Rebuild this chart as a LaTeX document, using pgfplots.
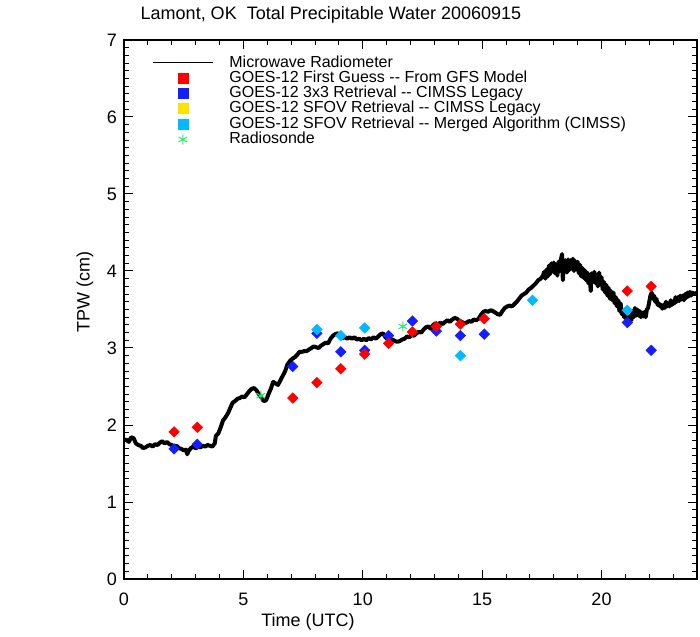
\documentclass[border=0pt]{standalone}
\usepackage{fontspec}
\setmainfont{Liberation Sans}
\usepackage{pgfplots}
\usepackage{pgfplotstable}
\pgfplotsset{compat=1.18}
\definecolor{fgred}{RGB}{255,0,0}
\definecolor{fgblue}{RGB}{20,30,255}
\definecolor{fgyellow}{RGB}{255,225,0}
\definecolor{fgcyan}{RGB}{0,185,255}
\definecolor{sondegreen}{RGB}{40,235,110}

% microwave radiometer TPW (cm) vs hour UTC
\pgfplotstableread{
x y
0.00 1.80
0.10 1.81
0.20 1.78
0.30 1.84
0.40 1.83
0.50 1.76
0.60 1.74
0.70 1.73
0.80 1.70
0.90 1.71
1.00 1.73
1.10 1.74
1.20 1.72
1.30 1.75
1.40 1.74
1.50 1.77
1.60 1.79
1.70 1.76
1.80 1.78
1.90 1.75
2.00 1.74
2.10 1.72
2.20 1.73
2.30 1.70
2.40 1.69
2.50 1.67
2.60 1.68
2.65 1.62
2.70 1.66
2.80 1.70
2.90 1.72
3.00 1.70
3.10 1.72
3.20 1.71
3.30 1.73
3.40 1.72
3.50 1.74
3.60 1.73
3.70 1.72
3.80 1.76
3.85 1.86
3.95 1.89
4.05 1.97
4.15 2.06
4.25 2.10
4.35 2.15
4.45 2.22
4.55 2.29
4.65 2.31
4.75 2.34
4.85 2.35
4.95 2.37
5.05 2.36
5.15 2.40
5.25 2.44
5.35 2.47
5.45 2.48
5.55 2.45
5.65 2.40
5.75 2.36
5.85 2.31
5.95 2.32
6.05 2.40
6.15 2.47
6.25 2.56
6.35 2.54
6.45 2.52
6.55 2.58
6.65 2.64
6.75 2.70
6.85 2.79
6.95 2.83
7.05 2.86
7.15 2.88
7.25 2.91
7.35 2.95
7.45 2.95
7.55 2.96
7.65 2.96
7.75 2.98
7.85 3.00
7.95 3.02
8.05 3.01
8.15 3.00
8.25 3.03
8.35 3.05
8.45 3.07
8.55 3.06
8.65 3.12
8.75 3.16
8.85 3.18
8.95 3.19
9.05 3.17
9.15 3.13
9.25 3.14
9.35 3.12
9.45 3.14
9.55 3.12
9.65 3.14
9.75 3.11
9.85 3.12
9.95 3.10
10.05 3.12
10.15 3.10
10.25 3.13
10.35 3.11
10.45 3.14
10.55 3.12
10.65 3.15
10.75 3.18
10.85 3.19
10.95 3.14
11.05 3.11
11.15 3.10
11.25 3.11
11.35 3.09
11.45 3.08
11.55 3.09
11.65 3.11
11.75 3.12
11.85 3.15
11.95 3.14
12.05 3.17
12.15 3.16
12.25 3.19
12.35 3.21
12.45 3.20
12.55 3.24
12.65 3.27
12.75 3.28
12.85 3.25
12.95 3.30
13.05 3.32
13.15 3.30
13.25 3.33
13.35 3.31
13.45 3.34
13.55 3.36
13.65 3.34
13.75 3.37
13.85 3.39
13.95 3.38
14.05 3.35
14.15 3.34
14.25 3.32
14.35 3.33
14.45 3.35
14.55 3.34
14.65 3.37
14.75 3.36
14.85 3.38
14.95 3.43
15.05 3.47
15.15 3.48
15.25 3.47
15.35 3.49
15.45 3.48
15.55 3.46
15.65 3.44
15.75 3.43
15.85 3.48
15.95 3.52
16.05 3.54
16.15 3.55
16.25 3.54
16.35 3.57
16.45 3.60
16.55 3.64
16.65 3.68
16.75 3.70
16.85 3.72
16.95 3.76
17.05 3.78
17.15 3.81
17.25 3.84
17.35 3.88
17.45 3.90
17.55 3.94
17.60 3.99
17.65 3.90
17.70 4.02
17.75 3.93
17.80 4.07
17.85 3.96
17.90 4.10
17.95 4.00
18.00 4.11
18.05 3.97
18.10 4.08
18.15 3.94
18.20 4.12
18.25 4.00
18.30 4.15
18.35 4.22
18.38 3.88
18.42 4.06
18.48 4.14
18.55 3.98
18.60 4.15
18.65 4.01
18.70 4.14
18.75 4.03
18.80 4.16
18.85 4.00
18.90 4.13
18.95 4.02
19.00 4.12
19.05 3.97
19.10 4.08
19.15 3.93
19.20 4.04
19.25 3.91
19.30 4.01
19.35 3.88
19.40 3.98
19.45 3.84
19.50 3.94
19.55 3.74
19.58 3.97
19.65 3.86
19.70 3.99
19.75 3.84
19.80 3.95
19.85 3.80
19.90 3.98
19.95 3.83
20.00 3.92
20.05 3.76
20.10 3.86
20.15 3.72
20.20 3.82
20.25 3.68
20.30 3.78
20.35 3.64
20.40 3.74
20.45 3.62
20.50 3.72
20.55 3.58
20.60 3.66
20.65 3.54
20.70 3.62
20.75 3.48
20.80 3.58
20.85 3.44
20.90 3.48
20.95 3.40
21.00 3.44
21.05 3.36
21.10 3.40
21.15 3.33
21.20 3.42
21.25 3.36
21.30 3.48
21.35 3.40
21.40 3.52
21.45 3.42
21.50 3.50
21.55 3.42
21.60 3.48
21.65 3.40
21.70 3.46
21.75 3.41
21.80 3.47
21.85 3.40
21.90 3.50
21.95 3.52
22.00 3.60
22.05 3.68
22.10 3.72
22.15 3.64
22.20 3.68
22.25 3.60
22.30 3.64
22.35 3.56
22.40 3.58
22.45 3.54
22.50 3.56
22.55 3.51
22.60 3.56
22.65 3.52
22.70 3.60
22.75 3.54
22.80 3.58
22.85 3.54
22.90 3.62
22.95 3.56
23.00 3.60
23.05 3.58
23.10 3.66
23.15 3.60
23.20 3.66
23.25 3.61
23.30 3.68
23.35 3.63
23.40 3.68
23.45 3.62
23.50 3.70
23.55 3.65
23.60 3.72
23.65 3.67
23.70 3.73
23.75 3.68
23.80 3.72
23.90 3.70
24.00 3.72
}\mwr

\pgfplotstableread{
x y
2.10 1.91
3.07 1.97
7.07 2.35
8.08 2.55
9.08 2.73
10.08 2.92
11.08 3.06
12.08 3.21
13.08 3.28
14.09 3.31
15.09 3.38
21.08 3.74
22.08 3.80
}\firstguess

\pgfplotstableread{
x y
2.10 1.69
3.07 1.75
7.07 2.76
8.08 3.19
9.08 2.95
10.08 2.97
11.08 3.16
12.08 3.35
13.08 3.22
14.09 3.16
15.09 3.18
21.08 3.33
22.08 2.97
}\threebythree

\pgfplotstableread{
x y
24.04 3.64
}\sfovlegacy

\pgfplotstableread{
x y
8.08 3.24
9.08 3.16
10.08 3.26
14.09 2.90
17.11 3.62
21.08 3.49
}\sfovmerged

\pgfplotstableread{
x y
5.73 2.38
11.68 3.28
}\sonde

\begin{document}
\begin{tikzpicture}
\begin{axis}[
    width=286.5pt, height=269.5pt, scale only axis,
    xmin=0, xmax=24, ymin=0, ymax=7,
    xtick={0,5,10,15,20},
    minor xtick={1,2,3,4,6,7,8,9,11,12,13,14,16,17,18,19,21,22,23},
    ytick={0,1,...,7},
    minor y tick num=9,
    tick pos=both, tick align=inside,
    major tick length=4.5pt, minor tick length=2.5pt,
    major tick style={black, line width=0.5pt},
    minor tick style={black, line width=0.5pt},
    axis line style={line width=0.6pt},
    /pgf/number format/assume math mode=true,
    ticklabel style={font=\fontsize{9}{10}\selectfont},
    xticklabel style={yshift=-3.5pt},
    xlabel={Time (UTC)},
    ylabel={TPW (cm)},
    label style={font=\fontsize{9}{10}\selectfont},
    xlabel style={at={(axis description cs:0.321,-0.0798)}, anchor=center},
    ylabel style={at={(axis description cs:-0.068,0.532)}, anchor=center},
    legend style={at={(0,1)}, anchor=north west, xshift=14pt, yshift=-7.7pt,
                  draw=none, fill=none, inner sep=0pt, column sep=8pt, row sep=0.45pt,
                  font=\fontsize{8}{9}\selectfont,
                  nodes={inner sep=0pt, text height=5.6pt, text depth=1.6pt}},
    legend cell align=left,
]
% legend entries (drawn in legend order, plots drawn below in stacking order)
\addlegendimage{legend image code/.code={\draw[black, line width=0.5pt] (0pt,0pt) -- (30pt,0pt);}}
\addlegendentry{Microwave Radiometer}
\addlegendimage{legend image code/.code={\fill[fgred] (12.5pt,-2.5pt) rectangle (17.5pt,2.5pt);}}
\addlegendentry{GOES-12 First Guess -{}- From GFS Model}
\addlegendimage{legend image code/.code={\fill[fgblue] (12.5pt,-2.5pt) rectangle (17.5pt,2.5pt);}}
\addlegendentry{GOES-12 3x3 Retrieval -{}- CIMSS Legacy}
\addlegendimage{legend image code/.code={\fill[fgyellow] (12.5pt,-2.5pt) rectangle (17.5pt,2.5pt);}}
\addlegendentry{GOES-12 SFOV Retrieval -{}- CIMSS Legacy}
\addlegendimage{legend image code/.code={\fill[fgcyan] (12.5pt,-2.5pt) rectangle (17.5pt,2.5pt);}}
\addlegendentry{GOES-12 SFOV Retrieval -{}- Merged Algorithm (CIMSS)}
\addlegendimage{legend image code/.code={\draw[sondegreen, line width=0.5pt, mark=asterisk, mark size=2.5pt] plot coordinates {(15pt,0pt)};}}
\addlegendentry{Radiosonde}

\addplot[black, line width=2pt, line join=round, forget plot] table {\mwr};
\addplot[only marks, mark=square*, mark size=1.8pt, fgblue,
    mark options={rotate=45, draw=none, fill=fgblue}, forget plot] table {\threebythree};
\addplot[only marks, mark=square*, mark size=1.8pt, fgcyan,
    mark options={rotate=45, draw=none, fill=fgcyan}, forget plot] table {\sfovmerged};
\addplot[only marks, mark=square*, mark size=1.8pt, fgyellow,
    mark options={rotate=45, draw=none, fill=fgyellow}, forget plot] table {\sfovlegacy};
\addplot[only marks, mark=square*, mark size=1.8pt, fgred,
    mark options={rotate=45, draw=none, fill=fgred}, forget plot] table {\firstguess};
\addplot[only marks, mark=asterisk, mark size=2.5pt, line width=0.5pt, sondegreen,
    forget plot] table {\sonde};
\end{axis}
% title, placed as in the original (not centred over the axis)
\node[font=\fontsize{9}{10}\selectfont, anchor=center]
    at ([xshift=103.5pt, yshift=12.5pt]current axis.north west)
    {Lamont, OK\ \ Total Precipitable Water 20060915};
\pgfresetboundingbox
\path[use as bounding box] ([xshift=-62pt,yshift=-28.5pt]current axis.south west)
    rectangle ([xshift=1.5pt,yshift=20pt]current axis.north east);
\end{tikzpicture}
\end{document}
